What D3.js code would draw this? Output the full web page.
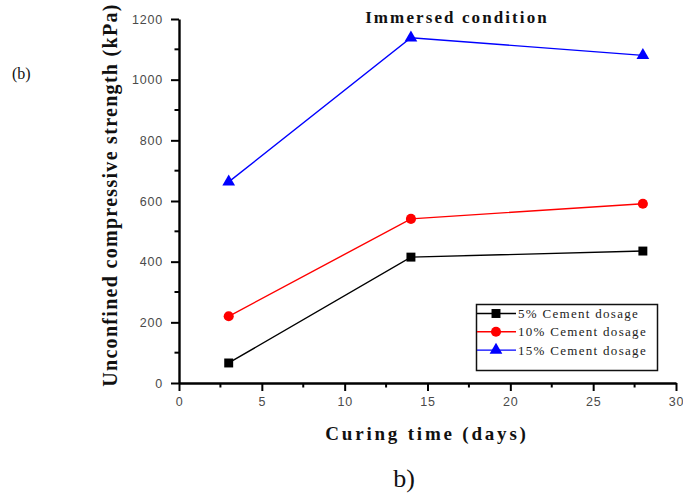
<!DOCTYPE html>
<html>
<head>
<meta charset="utf-8">
<script src="https://cdn.jsdelivr.net/npm/d3@7"></script>
<style>
  html, body { margin: 0; padding: 0; background: #fff; }
  svg { display: block; }
</style>
</head>
<body>
<svg id="chart" width="683" height="495"></svg>
<script>
// Curing time (days) at which specimens were tested
const curingDays = [3, 14, 28];
// UCS (kPa) per cement dosage, immersed condition
const cement5 = [66, 415, 435];
const cement10 = [220, 541, 591];
const cement15 = [663, 1138, 1080];
const seriesNames = ["5% Cement dosage", "10% Cement dosage", "15% Cement dosage"];
const xTicks = [0, 5, 10, 15, 20, 25, 30];
const yTicks = [0, 200, 400, 600, 800, 1000, 1200];

const series = [
  { name: seriesNames[0], values: cement5, color: "#000000", shape: d3.symbolSquare, size: 80 },
  { name: seriesNames[1], values: cement10, color: "#ff0000", shape: d3.symbolCircle, size: 80 },
  { name: seriesNames[2], values: cement15, color: "#0000ff", shape: d3.symbolTriangle, size: 70 }
];

const svg = d3.select("#chart");
const plotLeft = 179, plotRight = 676, plotTop = 19, plotBottom = 383;

const x = d3.scaleLinear().domain([0, 30]).range([plotLeft, plotRight]);
const y = d3.scaleLinear().domain([0, 1200]).range([plotBottom, plotTop]);

const serif = "'Liberation Serif', 'Times New Roman', serif";
const sans = "'Liberation Sans', Arial, sans-serif";

// minor ticks at half intervals
const xMinor = d3.range(2.5, 30, 5);
const yMinor = d3.range(100, 1200, 200);

const xAxis = svg.append("g").attr("transform", `translate(0,${plotBottom})`)
  .call(d3.axisBottom(x).tickValues(xTicks).tickFormat(d3.format("d"))
    .tickSize(8).tickPadding(6).tickSizeOuter(0));
const yAxis = svg.append("g").attr("transform", `translate(${plotLeft},0)`)
  .call(d3.axisLeft(y).tickValues(yTicks).tickFormat(d3.format("d"))
    .tickSize(8).tickPadding(8).tickSizeOuter(0));

[xAxis, yAxis].forEach(g => {
  g.select(".domain").attr("stroke", "#000").attr("stroke-width", 2.4);
  g.selectAll(".tick line").attr("stroke", "#000").attr("stroke-width", 2);
  g.selectAll(".tick text").attr("font-family", sans).attr("font-size", 12.5)
    .attr("letter-spacing", 0.8).attr("fill", "#4a4a4a");
});

svg.append("g").selectAll("line").data(xMinor).join("line")
  .attr("x1", d => x(d)).attr("x2", d => x(d))
  .attr("y1", plotBottom).attr("y2", plotBottom + 4.5)
  .attr("stroke", "#000").attr("stroke-width", 2);
svg.append("g").selectAll("line").data(yMinor).join("line")
  .attr("y1", d => y(d)).attr("y2", d => y(d))
  .attr("x1", plotLeft).attr("x2", plotLeft - 4.5)
  .attr("stroke", "#000").attr("stroke-width", 2);

// series lines and markers
const line = d3.line().x((d, i) => x(curingDays[i])).y(d => y(d));
series.forEach(s => {
  svg.append("path").datum(s.values)
    .attr("d", line).attr("fill", "none")
    .attr("stroke", s.color).attr("stroke-width", 1.4);
  svg.append("g").selectAll("path").data(s.values).join("path")
    .attr("transform", (d, i) => `translate(${x(curingDays[i])},${y(d)})`)
    .attr("d", d3.symbol().type(s.shape).size(s.size))
    .attr("fill", s.color);
});

// legend
const lg = svg.append("g");
lg.append("rect").attr("x", 476.5).attr("y", 304.5).attr("width", 181).attr("height", 66)
  .attr("fill", "#fff").attr("stroke", "#111").attr("stroke-width", 1.5);
series.forEach((s, i) => {
  const yy = 313.5 + i * 18.3;
  lg.append("line").attr("x1", 477).attr("x2", 516).attr("y1", yy).attr("y2", yy)
    .attr("stroke", s.color).attr("stroke-width", 1.4);
  lg.append("path").attr("transform", `translate(496,${yy})`)
    .attr("d", d3.symbol().type(s.shape).size(s.size)).attr("fill", s.color);
  lg.append("text").attr("x", 518).attr("y", yy + 4.5)
    .attr("font-family", serif).attr("font-size", 13).attr("letter-spacing", 1.3)
    .attr("fill", "#222").text(s.name);
});

// titles and labels
svg.append("text").attr("x", 457).attr("y", 23).attr("text-anchor", "middle")
  .attr("font-family", serif).attr("font-weight", "bold").attr("font-size", 17)
  .attr("letter-spacing", 2.1).attr("fill", "#111").text("Immersed condition");

svg.append("text").attr("transform", "translate(117,195) rotate(-90)")
  .attr("text-anchor", "middle").attr("font-family", serif).attr("font-weight", "bold")
  .attr("font-size", 20).attr("letter-spacing", 1.3).attr("fill", "#111")
  .text("Unconfined compressive strength (kPa)");

svg.append("text").attr("x", 427).attr("y", 440).attr("text-anchor", "middle")
  .attr("font-family", serif).attr("font-weight", "bold").attr("font-size", 19)
  .attr("letter-spacing", 2.8).attr("fill", "#111").text("Curing time (days)");

svg.append("text").attr("x", 12).attr("y", 79)
  .attr("font-family", serif).attr("font-size", 16).attr("fill", "#111").text("(b)");

svg.append("text").attr("x", 404).attr("y", 487).attr("text-anchor", "middle")
  .attr("font-family", serif).attr("font-size", 26).attr("fill", "#111").text("b)");
</script>
</body>
</html>
